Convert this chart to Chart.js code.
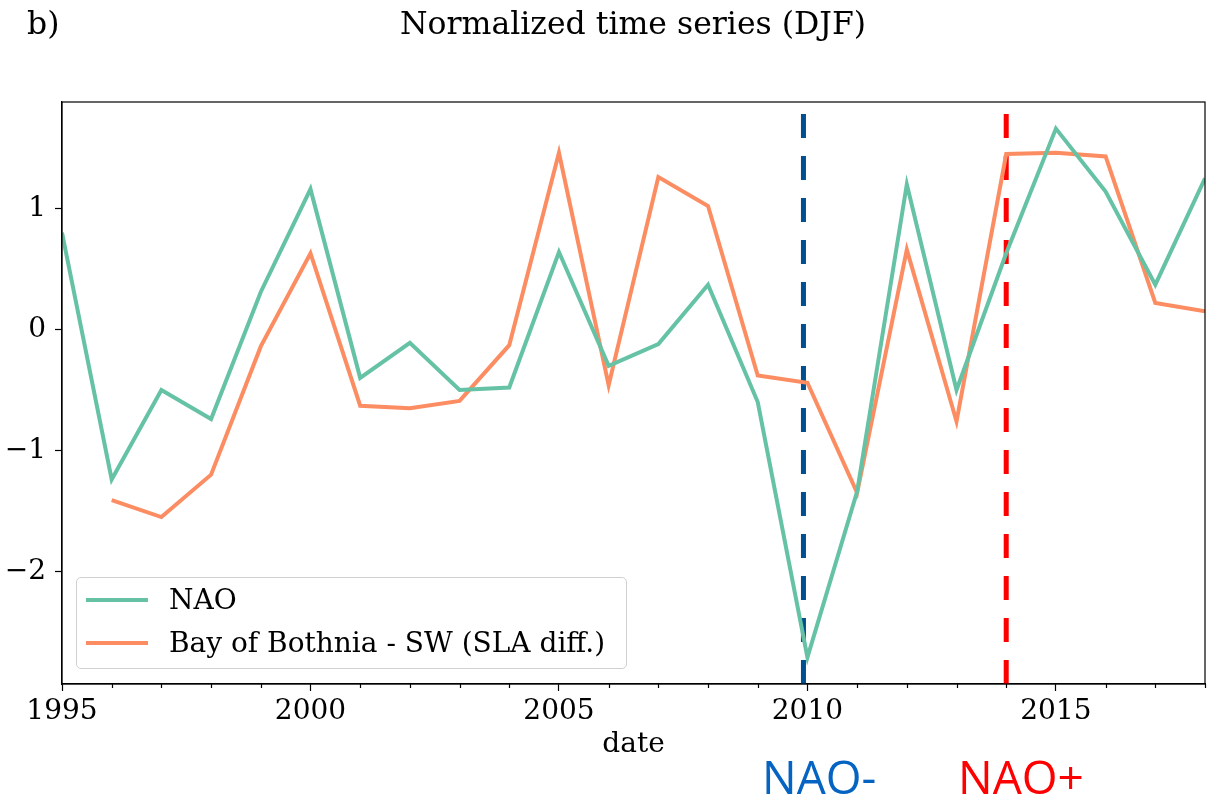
<!DOCTYPE html>
<html>
<head>
<meta charset="utf-8">
<script src="https://cdn.jsdelivr.net/npm/chart.js@4.4.0/dist/chart.umd.min.js"></script>
<style>
  html, body { margin: 0; padding: 0; background: #fff; }
  #wrap { position: relative; width: 1217px; height: 807px; overflow: hidden; }
  #chart { position: absolute; left: 0; top: 0; }
  .txt { position: absolute; white-space: nowrap; font-family: "DejaVu Serif", serif; color: #000; line-height: 1; }
  #panel { left: 27px; top: 8px; font-size: 31.5px; }
  #title { left: 633px; top: 8px; font-size: 31.5px; transform: translateX(-50%); }
  .event { position: absolute; white-space: nowrap; font-family: "Open Sans", sans-serif; font-size: 46px; line-height: 1; top: 753px; }
  #legend { position: absolute; left: 76px; top: 577px; width: 551px; height: 92px; box-sizing: border-box;
            border: 1px solid #d0d0d0; border-radius: 5px; background: rgba(255,255,255,0.8); }
  .row { position: absolute; left: 0; height: 43px; display: flex; align-items: center; }
  .swatch { width: 62px; height: 4px; margin-left: 9px; margin-right: 21px; }
  .label { font-family: "DejaVu Serif", serif; font-size: 28px; color: #000; white-space: nowrap; }
</style>
</head>
<body>
<div id="wrap">
  <canvas id="chart" width="1217" height="807"></canvas>
  <div class="txt" id="panel">b)</div>
  <div class="txt" id="title">Normalized time series (DJF)</div>
  <div id="legend"></div>
  <div class="event" id="evMinus" style="left:762px;color:#0563c1">NAO-</div>
  <div class="event" id="evPlus" style="left:958px;color:#ff0000">NAO+</div>
</div>
<script>
// data
const years = [1995, 1996, 1997, 1998, 1999, 2000, 2001, 2002, 2003, 2004, 2005, 2006,
               2007, 2008, 2009, 2010, 2011, 2012, 2013, 2014, 2015, 2016, 2017, 2018];
const nao = [0.80, -1.24, -0.50, -0.74, 0.31, 1.16, -0.40, -0.11, -0.50, -0.48, 0.64, -0.30,
             -0.12, 0.37, -0.60, -2.71, -1.34, 1.20, -0.50, 0.63, 1.66, 1.14, 0.37, 1.25];
const bothnia = [null, -1.41, -1.55, -1.20, -0.14, 0.63, -0.63, -0.65, -0.59, -0.13, 1.46, -0.46,
                 1.26, 1.02, -0.38, -0.44, -1.35, 0.66, -0.76, 1.45, 1.46, 1.43, 0.22, 0.15];
const xTicks = [1995, 2000, 2005, 2010, 2015];
const yTicks = [-2, -1, 0, 1];
const xRange = [1995, 2018];
const yRange = [-2.93, 1.88];
const naoMinusYear = 2009.92;
const naoPlusYear = 2014;

const serif = '"DejaVu Serif", serif';

function pts(vals) {
  return years.map((y, i) => ({ x: y, y: vals[i] }));
}
function vline(x) {
  // from bottom to top of the axes, like axvline
  return [{ x: x, y: yRange[0] }, { x: x, y: yRange[1] }];
}

// minor ticks every year + frame on top/right
const framePlugin = {
  id: 'frame',
  afterDraw(chart) {
    const ctx = chart.ctx;
    const a = chart.chartArea;
    const xs = chart.scales.x;
    ctx.save();
    ctx.strokeStyle = '#000';
    ctx.lineWidth = 1.2;
    ctx.beginPath();
    years.forEach(y => {
      if (xTicks.includes(y)) return;
      const px = Math.round(xs.getPixelForValue(y)) + 0.5;
      ctx.moveTo(px, a.bottom);
      ctx.lineTo(px, a.bottom + 4);
    });
    ctx.stroke();
    ctx.strokeRect(a.left, a.top, a.right - a.left, a.bottom - a.top);
    ctx.restore();
  }
};

const chart = new Chart(document.getElementById('chart'), {
  type: 'line',
  data: {
    datasets: [
      { label: 'NAO', data: pts(nao), borderColor: '#66c2a5', borderWidth: 4, inLegend: true },
      { label: 'Bay of Bothnia - SW (SLA diff.)', data: pts(bothnia), borderColor: '#fc8d62', borderWidth: 4, inLegend: true },
      { label: 'NAO-', data: vline(naoMinusYear), borderColor: '#004f91', borderWidth: 5, borderDash: [24, 18] },
      { label: 'NAO+', data: vline(naoPlusYear), borderColor: '#ff0000', borderWidth: 5, borderDash: [24, 18] }
    ]
  },
  options: {
    responsive: false,
    animation: false,
    layout: { padding: { top: 102, left: 0, right: 12, bottom: 0 } },
    elements: {
      point: { radius: 0, hoverRadius: 0 },
      line: { tension: 0, borderCapStyle: 'butt', borderJoinStyle: 'miter' }
    },
    datasets: { line: { clip: 0, spanGaps: false } },
    plugins: {
      legend: { display: false },
      tooltip: { enabled: false }
    },
    scales: {
      x: {
        type: 'linear',
        min: xRange[0],
        max: xRange[1],
        afterFit(s) { s.height = 123; },
        afterBuildTicks(s) { s.ticks = xTicks.map(v => ({ value: v })); },
        grid: { display: true, drawOnChartArea: false, drawTicks: true, tickLength: 7, tickColor: '#000', tickWidth: 1.2 },
        border: { display: true, color: '#000', width: 1.2 },
        ticks: { color: '#000', font: { family: serif, size: 28 }, padding: 4, maxRotation: 0,
                 callback: v => String(v) },
        title: { display: true, text: 'date', color: '#000', font: { family: serif, size: 28 },
                 padding: { top: 0, bottom: 45 } }
      },
      y: {
        min: yRange[0],
        max: yRange[1],
        afterFit(s) { s.width = 62; },
        afterBuildTicks(s) { s.ticks = yTicks.map(v => ({ value: v })); },
        grid: { display: true, drawOnChartArea: false, drawTicks: true, tickLength: 7, tickColor: '#000', tickWidth: 1.2 },
        border: { display: true, color: '#000', width: 1.2 },
        ticks: { color: '#000', font: { family: serif, size: 28 }, padding: 9,
                 callback: v => (v < 0 ? '\u2212' + Math.abs(v) : String(v)) }
      }
    }
  },
  plugins: [framePlugin]
});

// legend from the dataset labels/colours
const legendEl = document.getElementById('legend');
chart.data.datasets.filter(d => d.inLegend).forEach((d, i) => {
  const row = document.createElement('div');
  row.className = 'row';
  row.style.top = (i * 43) + 'px';
  const sw = document.createElement('div');
  sw.className = 'swatch';
  sw.style.background = d.borderColor;
  const lb = document.createElement('div');
  lb.className = 'label';
  lb.textContent = d.label;
  row.appendChild(sw);
  row.appendChild(lb);
  legendEl.appendChild(row);
});
</script>
</body>
</html>
